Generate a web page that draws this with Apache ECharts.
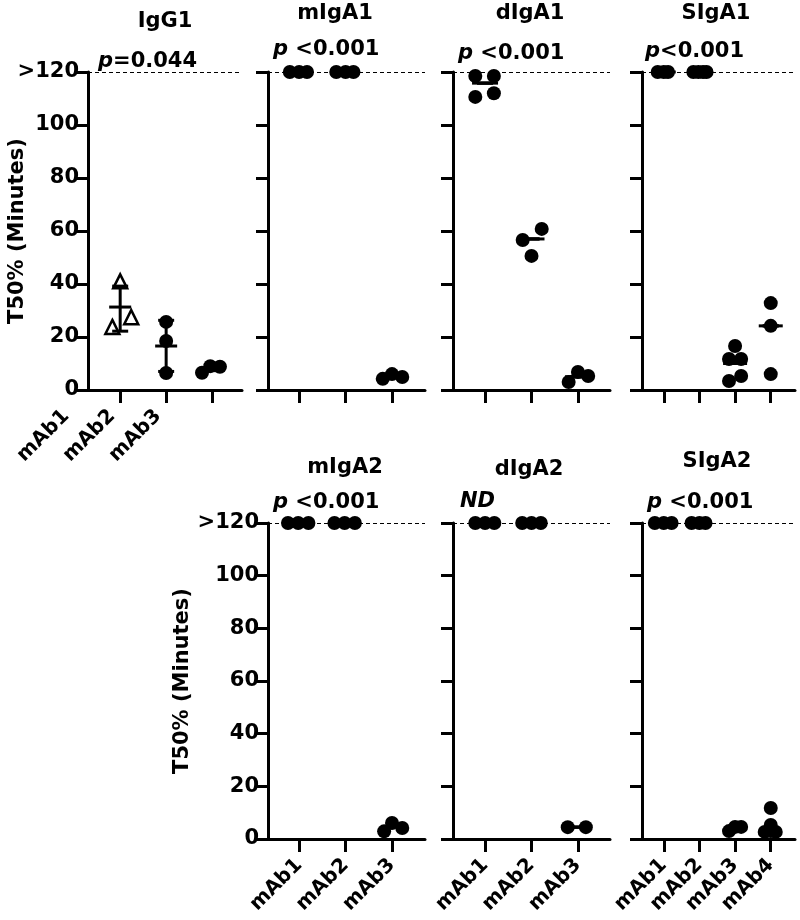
<!DOCTYPE html>
<html>
<head>
<meta charset="utf-8">
<script src="https://cdn.jsdelivr.net/npm/echarts@6/dist/echarts.min.js"></script>
<style>
  html, body { margin: 0; padding: 0; background: #fff; }
  #chart { width: 800px; height: 920px; }
</style>
</head>
<body>
<div id="chart"></div>
<script>
// categories
const cats3 = ['mAb1', 'mAb2', 'mAb3'];
const cats4 = ['mAb1', 'mAb2', 'mAb3', 'mAb4'];

// IgG1 (mAb1 = open triangles)
const igg1Vals = [[41, 23.8, 27.5], [25.7, 18.5, 6.4], [6.5, 9.0, 8.8]];
const igg1Jit = [[0, -0.17, 0.24], [0, 0, 0], [-0.22, -0.04, 0.17]];
const igg1Mean = [31.3, 16.6, 8.3];
const igg1Low = [22.2, 7.0, 7.3];
const igg1High = [39.2, 26.3, 9.4];

// mIgA1
const migA1Vals = [[120, 120, 120], [120, 120, 120], [4.2, 6.0, 4.9]];
const migA1Jit = [[-0.2, 0, 0.17], [-0.2, 0, 0.17], [-0.2, 0, 0.22]];

// dIgA1
const digA1Vals = [[118.5, 118.5, 110.6, 112], [56.6, 60.8, 50.6], [3.0, 6.8, 5.3]];
const digA1Jit = [[-0.21, 0.19, -0.21, 0.19], [-0.19, 0.22, 0], [-0.2, 0, 0.22]];
const digA1Mean = [115.8, 57, 5];

// SIgA1
const sigA1Vals = [[120, 120, 120], [120, 120, 120, 120], [16.6, 11.7, 11.7, 5.3, 3.4], [32.8, 24.2, 6.0]];
const sigA1Jit = [[-0.17, 0, 0.12], [-0.17, -0.03, 0.1, 0.2], [0, -0.17, 0.17, 0.17, -0.17], [0, 0, 0]];
const sigA1Mean = [120, 120, 10, 24.2];

// mIgA2
const migA2Vals = [[120, 120, 120], [120, 120, 120], [2.9, 6.1, 4.2]];
const migA2Jit = [[-0.24, -0.02, 0.2], [-0.24, -0.02, 0.2], [-0.17, 0, 0.22]];

// dIgA2
const digA2Vals = [[120, 120, 120], [120, 120, 120], [4.5, 4.5]];
const digA2Jit = [[-0.21, 0, 0.2], [-0.2, 0, 0.2], [-0.22, 0.17]];
const digA2Mean = [120, 120, 4.5];

// SIgA2
const sigA2Vals = [[120, 120, 120], [120, 120, 120], [3.0, 4.6, 4.6], [11.8, 5.3, 2.7, 2.7, 3.0]];
const sigA2Jit = [[-0.25, 0, 0.22], [-0.22, 0, 0.17], [-0.17, 0, 0.17], [0, 0, -0.17, 0.14, 0]];

// texts
const panelTitles = ['IgG1', 'mIgA1', 'dIgA1', 'SIgA1', 'mIgA2', 'dIgA2', 'SIgA2'];
const pTexts = ['{i|p}=0.044', '{i|p} <0.001', '{i|p} <0.001', '{i|p}<0.001', '{i|p} <0.001', '{i|ND}', '{i|p} <0.001'];
const yName = 'T50% (Minutes)';

const FONT = 'DejaVu Sans';

const chart = echarts.init(document.getElementById('chart'));

const grids = [], xAxes = [], yAxes = [], series = [], titles = [];

function toPoints(vals, jit) {
  const pts = [];
  vals.forEach((grp, c) => grp.forEach((v, k) => pts.push([c + 1 + jit[c][k], v])));
  return pts;
}

function barItems(mean, low, high, hw) {
  return mean.map((m, c) => [c + 1, m, low ? low[c] : m, high ? high[c] : m, hw]);
}

function xLabel(cats, show) {
  return { show: show, rotate: 45, margin: 23, color: '#000',
    fontFamily: FONT, fontWeight: 'bold', fontSize: 20,
    customValues: cats.map((c, k) => k + 1),
    formatter: v => cats[Math.round(v) - 1] || '' };
}

function addPanel(i, box, cats, showYLabels, showXLabels, yNameGap) {
  grids.push({ left: box.l, top: box.t, width: box.w, height: box.h, outerBoundsMode: 'none' });
  xAxes.push({
    type: 'value', gridIndex: i, min: box.xmin, max: box.xmax,
    splitLine: { show: false },
    axisLine: { show: true, onZero: false, lineStyle: { color: '#000', width: 3 } },
    axisTick: { show: true, length: 13, lineStyle: { color: '#000', width: 3 },
      customValues: cats.map((c, k) => k + 1) },
    axisLabel: xLabel(cats, showXLabels)
  });
  yAxes.push({
    type: 'value', gridIndex: i, min: 0, max: 120, interval: 20,
    name: showYLabels ? yName : '', nameLocation: 'middle', nameGap: yNameGap,
    nameMoveOverlap: false,
    nameTextStyle: { color: '#000', fontFamily: FONT, fontWeight: 'bold', fontSize: 21 },
    splitLine: { show: false },
    axisLine: { show: true, lineStyle: { color: '#000', width: 3 } },
    axisTick: { show: true, length: 12, lineStyle: { color: '#000', width: 3 } },
    axisLabel: { show: showYLabels, margin: 9, color: '#000',
      fontFamily: FONT, fontWeight: 'bold', fontSize: 21,
      formatter: v => (v === 120 ? '>120' : String(v)) }
  });
}

function dots(i, data, symbol, markLine) {
  const s = {
    type: 'scatter', xAxisIndex: i, yAxisIndex: i, data: data, clip: false,
    symbol: symbol || 'circle', symbolSize: 14, z: 2,
    itemStyle: { color: '#000', opacity: 1 },
    emphasis: { disabled: true }
  };
  if (symbol === 'triangle') {
    s.symbolSize = 14;
    s.itemStyle = { color: '#fff', borderColor: '#000', borderWidth: 2.5, opacity: 1 };
  }
  if (markLine) {
    s.markLine = {
      silent: true, symbol: ['none', 'none'], label: { show: false },
      lineStyle: { color: '#000', type: [4, 3], width: 1.2 },
      data: [{ yAxis: 120 }]
    };
  }
  series.push(s);
}

function bars(i, items) {
  series.push({
    type: 'custom', xAxisIndex: i, yAxisIndex: i, data: items, z: 4, clip: false,
    renderItem: function (params, api) {
      const x = api.value(0), m = api.value(1), lo = api.value(2), hi = api.value(3), hw = api.value(4);
      const c = api.coord([x, m]), a = api.coord([x, lo]), b = api.coord([x, hi]);
      const st = { stroke: '#000', lineWidth: 3 };
      return {
        type: 'group', children: [
          { type: 'line', shape: { x1: c[0] - hw, y1: c[1], x2: c[0] + hw, y2: c[1] }, style: st },
          { type: 'line', shape: { x1: a[0], y1: a[1], x2: b[0], y2: b[1] }, style: st },
          { type: 'line', shape: { x1: a[0] - 8, y1: a[1], x2: a[0] + 8, y2: a[1] }, style: st },
          { type: 'line', shape: { x1: b[0] - 8, y1: b[1], x2: b[0] + 8, y2: b[1] }, style: st }
        ]
      };
    }
  });
}

// top row
addPanel(0, { l: 88, t: 72, w: 154, h: 318, xmin: 0.3, xmax: 3.65 }, cats3, true, false, 60);
addPanel(1, { l: 268, t: 72, w: 157, h: 318, xmin: 0.33, xmax: 3.71 }, cats3, false, false, 0);
addPanel(2, { l: 453, t: 72, w: 157, h: 318, xmin: 0.31, xmax: 3.69 }, cats3, false, false, 0);
addPanel(3, { l: 642, t: 72, w: 153, h: 318, xmin: 0.39, xmax: 4.68 }, cats4, false, false, 0);
// bottom row
addPanel(4, { l: 268, t: 523, w: 157, h: 316, xmin: 0.33, xmax: 3.71 }, cats3, true, true, 75);
addPanel(5, { l: 453, t: 523, w: 157, h: 316, xmin: 0.31, xmax: 3.69 }, cats3, false, true, 0);
addPanel(6, { l: 642, t: 523, w: 153, h: 316, xmin: 0.39, xmax: 4.68 }, cats4, false, true, 0);

// IgG1 category labels sit left of their ticks in the original: a label-only axis, shifted left
grids.push({ left: 88 - 54, top: 72, width: 154, height: 318, outerBoundsMode: 'none' });
xAxes.push({ type: 'value', gridIndex: 7, min: 0.3, max: 3.65, splitLine: { show: false },
  axisLine: { show: false }, axisTick: { show: false }, axisLabel: xLabel(cats3, true) });
yAxes.push({ type: 'value', gridIndex: 7, min: 0, max: 120, show: false });

// IgG1
dots(0, toPoints(igg1Vals.slice(0, 1), igg1Jit.slice(0, 1)), 'triangle', true);
dots(0, toPoints(igg1Vals, igg1Jit).slice(igg1Vals[0].length), 'circle', false);
bars(0, barItems(igg1Mean, igg1Low, igg1High, 11));
// mIgA1
dots(1, toPoints(migA1Vals, migA1Jit), 'circle', true);
// dIgA1
dots(2, toPoints(digA1Vals, digA1Jit), 'circle', true);
bars(2, barItems(digA1Mean, null, null, 13));
// SIgA1
dots(3, toPoints(sigA1Vals, sigA1Jit), 'circle', true);
bars(3, barItems(sigA1Mean, null, null, 12));
// mIgA2
dots(4, toPoints(migA2Vals, migA2Jit), 'circle', true);
// dIgA2
dots(5, toPoints(digA2Vals, digA2Jit), 'circle', true);
bars(5, barItems(digA2Mean, null, null, 10));
// SIgA2
dots(6, toPoints(sigA2Vals, sigA2Jit), 'circle', true);

// titles and p values
const titlePos = [[165, 11], [335, 3], [530, 3], [716, 3], [345, 457], [529, 459], [717, 451]];
const pPos = [[98, 51], [273, 39], [458, 43], [645, 41], [273, 492], [460, 491], [647, 492]];
const baseText = { color: '#000', fontFamily: FONT, fontWeight: 'bold', fontSize: 21 };
panelTitles.forEach((t, k) => {
  titles.push({ text: t, left: titlePos[k][0], top: titlePos[k][1], textAlign: 'center',
    textStyle: baseText, padding: 0 });
});
pTexts.forEach((t, k) => {
  titles.push({ text: t, left: pPos[k][0], top: pPos[k][1], padding: 0,
    textStyle: Object.assign({}, baseText, {
      rich: { i: { fontStyle: 'italic', fontWeight: 'bold', fontSize: 21, fontFamily: FONT, color: '#000' } }
    }) });
});

chart.setOption({
  animation: false,
  backgroundColor: '#fff',
  title: titles,
  grid: grids,
  xAxis: xAxes,
  yAxis: yAxes,
  series: series
});
</script>
</body>
</html>
